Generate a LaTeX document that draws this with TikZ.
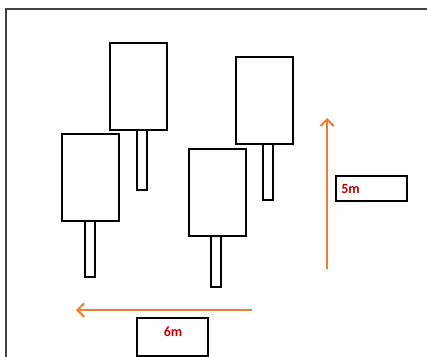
\documentclass[tikz,border=0pt]{standalone}
\usepackage{fontspec}
\setmainfont{Carlito}
\usetikzlibrary{arrows.meta}
\definecolor{arroworange}{HTML}{ED7D31}
\definecolor{labelred}{HTML}{C00000}
\definecolor{framegray}{HTML}{404040}
\begin{document}
\begin{tikzpicture}[x=0.75pt,y=-0.75pt,
  rect/.style={draw=black,line width=1.5pt,inner sep=0pt,outer sep=0pt,anchor=north west},
  sign/.style={rect,minimum width=57*0.75pt,minimum height=87*0.75pt},
  stick/.style={rect,minimum width=10*0.75pt},
  dimarrow/.style={draw=arroworange,line width=1.5pt,-{Straight Barb[length=5pt,width=10pt,line width=1.5pt]}},
  lab/.style={text=labelred,font=\bfseries\fontsize{10.5}{12}\selectfont,inner sep=0pt}]
\clip (0,0) rectangle (427,356);
\fill[white] (0,0) rectangle (427,356);
% frame
\coordinate (fr) at (427,9);
\coordinate (fc) at (6,9);
\coordinate (fb) at (6,357);
\draw[framegray,line width=1.2pt] (fr) -- (fc) -- (fb);
% signs
\node[sign] (A) at (110,43) {};
\node[stick,minimum height=60*0.75pt] (As) at (137,130) {};
\node[sign] (B) at (236,57) {};
\node[stick,minimum height=56*0.75pt] (Bs) at (263,144) {};
\node[sign] (C) at (62,134) {};
\node[stick,minimum height=56*0.75pt] (Cs) at (85,221) {};
\node[sign] (D) at (189,149) {};
\node[stick,minimum height=51*0.75pt] (Ds) at (211,236) {};
% 5m
\coordinate (u1) at (327,269);
\coordinate (u2) at (327,118);
\draw[dimarrow] (u1) -- (u2);
\node[rect,minimum width=71*0.75pt,minimum height=25*0.75pt] (L5) at (336,176) {};
\node[lab,anchor=west] (t5) at (341,189) {5m};
% 6m
\coordinate (h1) at (252,310);
\coordinate (h2) at (76,310);
\draw[dimarrow] (h1) -- (h2);
\node[rect,minimum width=71*0.75pt,minimum height=38*0.75pt] (L6) at (137,318) {};
\node[lab] (t6) at (173,332) {6m};
\end{tikzpicture}
\end{document}
